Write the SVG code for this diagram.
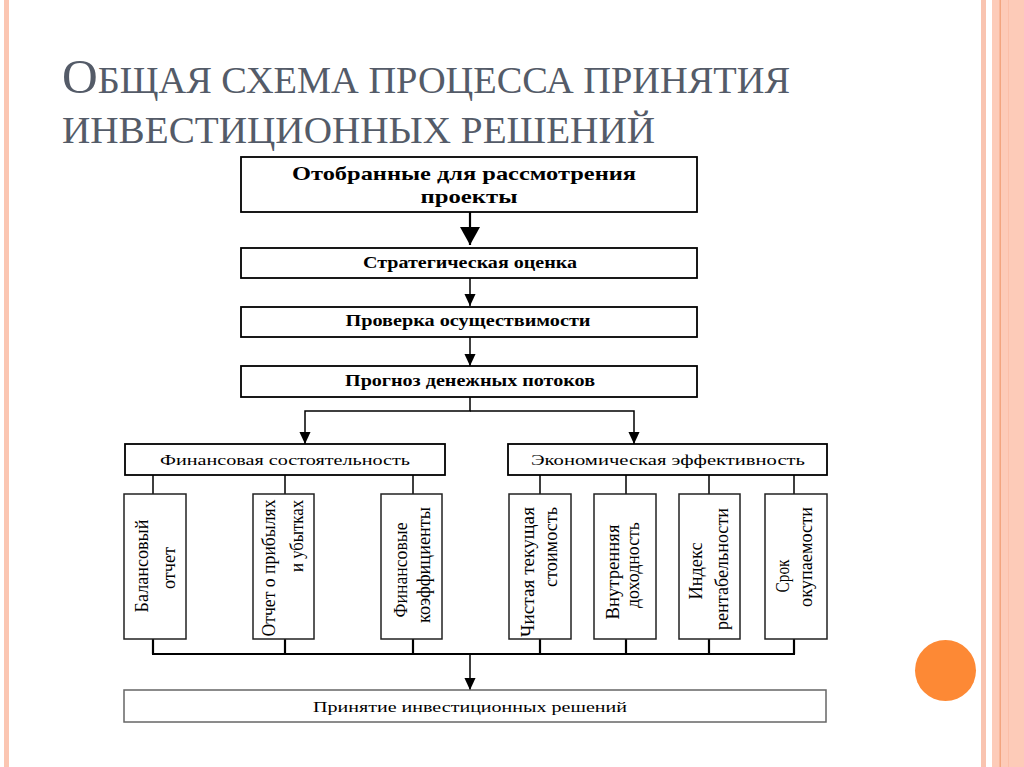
<svg xmlns="http://www.w3.org/2000/svg" width="1024" height="767" viewBox="0 0 1024 767">
<style>
.box{fill:#fff;stroke:#000;stroke-width:1.8}
.sub{fill:#fff;stroke:#222;stroke-width:1.5}
.bot{fill:#fff;stroke:#666;stroke-width:1.5}
.ln{fill:none;stroke:#000;stroke-width:1.5}
.lnb{fill:none;stroke:#000;stroke-width:2.2}
.tb{font-family:"Liberation Serif","Times New Roman",serif;font-weight:bold;fill:#000;text-anchor:middle}
.tr{font-family:"Liberation Serif","Times New Roman",serif;fill:#000;text-anchor:middle;font-size:15px}
.tv{font-family:"Liberation Serif","Times New Roman",serif;fill:#000;text-anchor:middle;font-size:18px}
.title{font-family:"Liberation Serif","Times New Roman",serif;fill:#545b68}
</style>
<defs>
<marker id="ah" markerUnits="userSpaceOnUse" markerWidth="12" markerHeight="13" refX="13" refY="6" orient="auto" viewBox="0 0 13 12">
<path d="M0,0 L13,6 L0,12 z" fill="#000"/>
</marker>
<marker id="ahb" markerUnits="userSpaceOnUse" markerWidth="18" markerHeight="20" refX="18" refY="10" orient="auto" viewBox="0 0 18 20">
<path d="M0,0 L18,10 L0,20 z" fill="#000"/>
</marker>
</defs>
<rect width="1024" height="767" fill="#fff"/>
<g id="frame">
<rect x="4" y="0" width="5" height="767" fill="#fbc6b2"/>
<rect x="981" y="0" width="5" height="767" fill="#f9c4b0"/>
<rect x="992" y="0" width="32" height="767" fill="#fdcbb8"/>
<rect x="999.5" y="0" width="1.5" height="767" fill="#f3a57f"/>
<rect x="1008" y="0" width="1" height="767" fill="#fbbfa8"/>
<circle cx="945.5" cy="670.5" r="30.5" fill="#fd8935"/>
</g>
<g id="title" class="title">
<text x="62" y="93" font-size="49" textLength="728" lengthAdjust="spacingAndGlyphs">О<tspan font-size="38">БЩАЯ СХЕМА ПРОЦЕССА ПРИНЯТИЯ</tspan></text>
<text x="62" y="143" font-size="38" textLength="593" lengthAdjust="spacingAndGlyphs">ИНВЕСТИЦИОННЫХ РЕШЕНИЙ</text>
</g>
<g id="connectors">
<path class="lnb" d="M470,212 V245" marker-end="url(#ahb)"/>
<path class="ln" d="M470,278 V306" marker-end="url(#ah)"/>
<path class="ln" d="M470,337 V366" marker-end="url(#ah)"/>
<path class="ln" d="M470,397 V411 H305 V444" marker-end="url(#ah)"/>
<path class="ln" d="M470,411 H634 V444" marker-end="url(#ah)"/>
<path class="ln" d="M153,475 V494 M285,475 V494 M413,475 V494"/>
<path class="ln" d="M540,475 V494 M626,475 V494 M709,475 V494 M794,475 V494"/>
<path class="lnb" d="M153,639 V654 M285,639 V654 M413,639 V654 M540,639 V654 M626,639 V654 M709,639 V654 M794,639 V654 M152,654 H795"/>
<path class="ln" d="M470,654 V690" marker-end="url(#ah)"/>
</g>
<g id="n_selected">
<rect class="box" x="241" y="157" width="456" height="55"/>
<text class="tb" x="464" y="180" font-size="19" textLength="344" lengthAdjust="spacingAndGlyphs">Отобранные для рассмотрения</text>
<text class="tb" x="469" y="203" font-size="19" textLength="97" lengthAdjust="spacingAndGlyphs">проекты</text>
</g>
<g id="n_strategic">
<rect class="box" x="241" y="248" width="456" height="30"/>
<text class="tb" x="470" y="268" font-size="16" textLength="214" lengthAdjust="spacingAndGlyphs">Стратегическая оценка</text>
</g>
<g id="n_feasibility">
<rect class="box" x="241" y="307" width="456" height="30"/>
<text class="tb" x="468" y="326" font-size="16" textLength="245" lengthAdjust="spacingAndGlyphs">Проверка осуществимости</text>
</g>
<g id="n_cashflow">
<rect class="box" x="241" y="366" width="456" height="31"/>
<text class="tb" x="470" y="386" font-size="16" textLength="250" lengthAdjust="spacingAndGlyphs">Прогноз денежных потоков</text>
</g>
<g id="n_financial">
<rect class="box" x="125" y="444" width="320" height="31"/>
<text class="tr" x="285" y="465" textLength="250" lengthAdjust="spacingAndGlyphs">Финансовая состоятельность</text>
</g>
<g id="n_economic">
<rect class="box" x="508" y="444" width="319" height="31"/>
<text class="tr" x="668" y="465" textLength="274" lengthAdjust="spacingAndGlyphs">Экономическая эффективность</text>
</g>
<g id="n_balance">
<rect class="sub" x="124" y="494" width="62" height="145"/>
<text class="tv" transform="translate(148,566) rotate(-90)" textLength="93" lengthAdjust="spacingAndGlyphs">Балансовый</text>
<text class="tv" transform="translate(175,568) rotate(-90)" textLength="42" lengthAdjust="spacingAndGlyphs">отчет</text>
</g>
<g id="n_pnl">
<rect class="sub" x="253" y="494" width="61" height="145"/>
<text class="tv" transform="translate(275,568) rotate(-90)" textLength="137" lengthAdjust="spacingAndGlyphs">Отчет о прибылях</text>
<text class="tv" transform="translate(303,536) rotate(-90)" textLength="72" lengthAdjust="spacingAndGlyphs">и убытках</text>
</g>
<g id="n_ratios">
<rect class="sub" x="381" y="494" width="61" height="145"/>
<text class="tv" transform="translate(407,570) rotate(-90)" textLength="95" lengthAdjust="spacingAndGlyphs">Финансовые</text>
<text class="tv" transform="translate(430,565) rotate(-90)" textLength="116" lengthAdjust="spacingAndGlyphs">коэффициенты</text>
</g>
<g id="n_npv">
<rect class="sub" x="509" y="494" width="62" height="145"/>
<text class="tv" transform="translate(534,572) rotate(-90)" textLength="130" lengthAdjust="spacingAndGlyphs">Чистая текущая</text>
<text class="tv" transform="translate(557,547) rotate(-90)" textLength="80" lengthAdjust="spacingAndGlyphs">стоимость</text>
</g>
<g id="n_irr">
<rect class="sub" x="594" y="494" width="62" height="145"/>
<text class="tv" transform="translate(619,572) rotate(-90)" textLength="95" lengthAdjust="spacingAndGlyphs">Внутренняя</text>
<text class="tv" transform="translate(639,565) rotate(-90)" textLength="86" lengthAdjust="spacingAndGlyphs">доходность</text>
</g>
<g id="n_pi">
<rect class="sub" x="679" y="494" width="61" height="145"/>
<text class="tv" transform="translate(702,571) rotate(-90)" textLength="57" lengthAdjust="spacingAndGlyphs">Индекс</text>
<text class="tv" transform="translate(728,569) rotate(-90)" textLength="122" lengthAdjust="spacingAndGlyphs">рентабельности</text>
</g>
<g id="n_payback">
<rect class="sub" x="765" y="494" width="62" height="145"/>
<text class="tv" transform="translate(789,576) rotate(-90)" textLength="33" lengthAdjust="spacingAndGlyphs">Срок</text>
<text class="tv" transform="translate(812,557) rotate(-90)" textLength="100" lengthAdjust="spacingAndGlyphs">окупаемости</text>
</g>
<g id="n_decision">
<rect class="bot" x="124" y="690" width="702" height="32"/>
<text class="tr" x="470" y="712" textLength="314" lengthAdjust="spacingAndGlyphs">Принятие инвестиционных решений</text>
</g>
</svg>
